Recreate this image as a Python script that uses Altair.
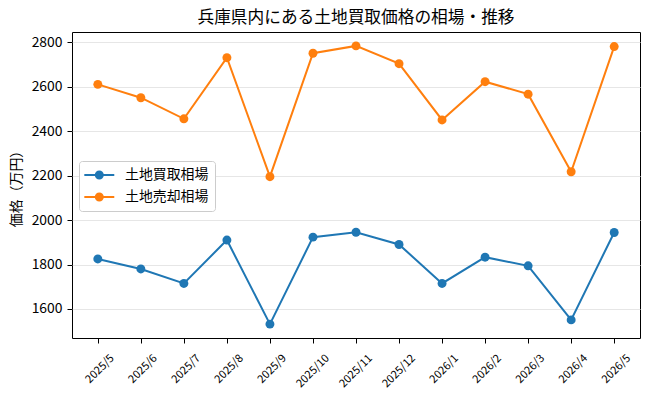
import altair as alt
import pandas as pd

months = ["2025/5", "2025/6", "2025/7", "2025/8", "2025/9", "2025/10", "2025/11",
          "2025/12", "2026/1", "2026/2", "2026/3", "2026/4", "2026/5"]
buy = [1825, 1780, 1715, 1910, 1532, 1923, 1945, 1890, 1715, 1833, 1794, 1551, 1944]
sell = [2610, 2550, 2455, 2730, 2195, 2750, 2783, 2703, 2450, 2622, 2566, 2217, 2780]
series_names = ["土地買取相場", "土地売却相場"]
colors = ["#1f77b4", "#ff7f0e"]
y_ticks = [1600, 1800, 2000, 2200, 2400, 2600, 2800]
y_domain = [1469.5, 2845.5]

rows = []
for name, vals in zip(series_names, [buy, sell]):
    for m, v in zip(months, vals):
        rows.append({"month": m, "value": v, "series": name})
df = pd.DataFrame(rows)

FONT = "Noto Sans CJK JP"
sym = "M-1.24,0H3.04M1.4,0A0.5,0.5 0 1,1 0.4,0A0.5,0.5 0 1,1 1.4,0Z"

legend = alt.Legend(
    title=None, orient="none", legendX=7, legendY=129, padding=6, rowPadding=6,
    symbolSize=196, symbolType=sym, symbolStrokeWidth=2, labelOffset=24,
    labelFontSize=13.9, labelFont=FONT, labelColor="black", labelLimit=0,
    fillColor="white", strokeColor="#cccccc", cornerRadius=3, symbolOpacity=1,
)

base = alt.Chart(df).encode(
    x=alt.X("month:O", sort=months,
            scale=alt.Scale(type="point", padding=0.6),
            axis=alt.Axis(title=None, labelAngle=-45, labelAlign="right",
                          labelBaseline="top", labelOffset=10, labelPadding=9,
                          tickSize=5, labelFontSize=11.1, grid=False, domain=False,
                          labelOverlap=False)),
    y=alt.Y("value:Q",
            scale=alt.Scale(domain=y_domain, nice=False, zero=False),
            axis=alt.Axis(values=y_ticks, format="d", title="価格（万円）", grid=True,
                          gridColor="#e6e6e6", gridWidth=1, tickSize=5,
                          labelFontSize=13.9, labelPadding=5, domain=False,
                          titleFontSize=13.9, titleFontWeight="normal",
                          titleX=-56, titleY=153, titleAngle=270,
                          titleAlign="center", titleBaseline="middle",
                          labelFlush=False)),
    color=alt.Color("series:N",
                    scale=alt.Scale(domain=series_names, range=colors),
                    legend=legend),
)

line = base.mark_line(strokeWidth=2)
points = base.mark_point(filled=True, size=80, opacity=1)

chart = alt.layer(line, points).properties(
    width=568, height=306,
    autosize=alt.AutoSizeParams(type="none"),
    padding={"left": 72, "top": 32, "right": 10, "bottom": 58},
    background="white",
    title=alt.Title("兵庫県内にある土地買取価格の相場・推移", font=FONT,
                    fontSize=16.7, fontWeight="normal", color="black",
                    anchor="middle", frame="group", offset=-8,
                    baseline="alphabetic"),
).configure_view(
    stroke="black", strokeWidth=1
).configure_axis(
    labelFont=FONT, titleFont=FONT, labelColor="black", titleColor="black",
    tickColor="black", tickWidth=1
)

chart.save("out.html", embed_options={"renderer": "svg", "actions": False})
